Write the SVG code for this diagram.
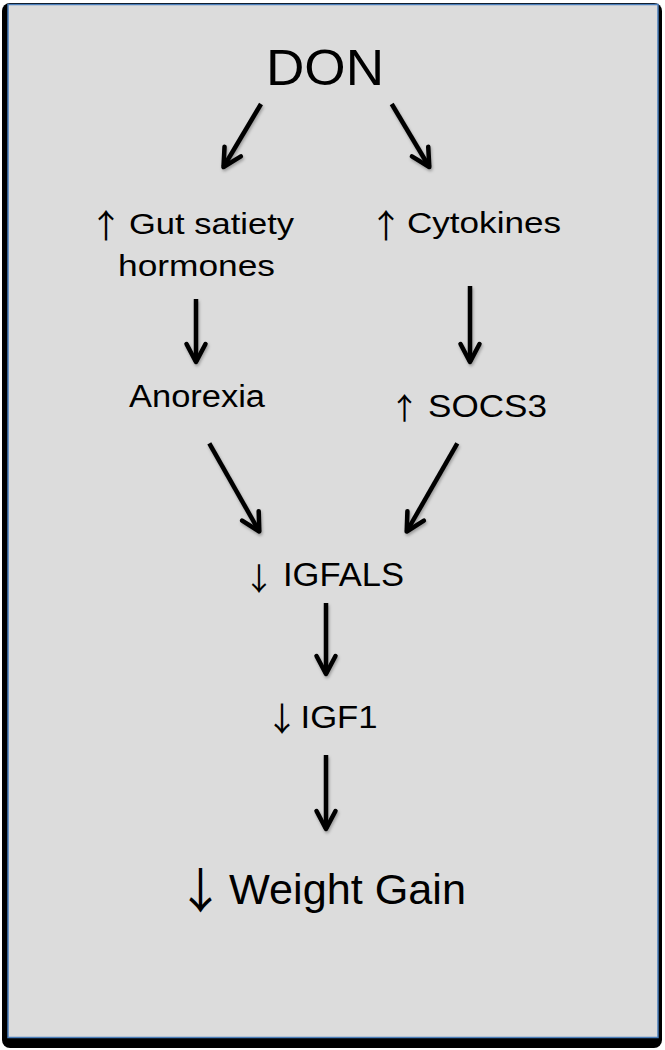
<svg xmlns="http://www.w3.org/2000/svg" width="665" height="1050" viewBox="0 0 665 1050">
<defs>
<style>
text{font-family:"Liberation Sans",Arial,sans-serif;fill:#000}
.lbl{font-size:30px}
.ar{text-anchor:middle;font-family:"Noto Sans CJK SC",sans-serif}
.conn line{stroke:#000;stroke-width:4.5;stroke-linecap:butt}
</style>
<marker id="head" markerUnits="userSpaceOnUse" markerWidth="40" markerHeight="40" viewBox="-30 -20 40 40" refX="0" refY="0" orient="auto" overflow="visible">
<path d="M-18,-9.5 L0,0 L-18,9.5" fill="none" stroke="#000" stroke-width="4.5" stroke-linecap="round" stroke-linejoin="round"/>
</marker>
<filter id="sh" x="-20%" y="-20%" width="140%" height="140%">
<feDropShadow dx="1" dy="2" stdDeviation="1.5" flood-color="#000" flood-opacity="0.3"/>
</filter>
</defs>
<g id="frame">
<rect x="2" y="3" width="660" height="1045" rx="8" fill="#000"/>
<rect x="8" y="4.5" width="650" height="1033" fill="#dcdcdc" stroke="#4a7ebb" stroke-width="1.5"/>
</g>
<g id="node-don"><text x="266" y="85" font-size="50" textLength="118" lengthAdjust="spacingAndGlyphs">DON</text></g>
<g id="node-gut">
<text class="ar" x="106" y="237.5" font-size="33">↑</text>
<text class="lbl" x="129" y="234" textLength="165" lengthAdjust="spacingAndGlyphs">Gut satiety</text>
<text class="lbl" x="118" y="276" textLength="157" lengthAdjust="spacingAndGlyphs">hormones</text>
</g>
<g id="node-cytokines">
<text class="ar" x="386" y="237.5" font-size="33">↑</text>
<text class="lbl" x="407" y="233" textLength="154" lengthAdjust="spacingAndGlyphs">Cytokines</text>
</g>
<g id="node-anorexia"><text x="129" y="407" font-size="31" textLength="136" lengthAdjust="spacingAndGlyphs">Anorexia</text></g>
<g id="node-socs3">
<text class="ar" x="404.5" y="418.5" font-size="30">↑</text>
<text x="428" y="417" font-size="31" textLength="119" lengthAdjust="spacingAndGlyphs">SOCS3</text>
</g>
<g id="node-igfals">
<text class="ar" x="259" y="590" font-size="31">↓</text>
<text x="283" y="586" font-size="33" textLength="121" lengthAdjust="spacingAndGlyphs">IGFALS</text>
</g>
<g id="node-igf1">
<text class="ar" x="282" y="731" font-size="33">↓</text>
<text x="300.5" y="728" font-size="32" textLength="77" lengthAdjust="spacingAndGlyphs">IGF1</text>
</g>
<g id="node-weight">
<text class="ar" x="200.5" y="907.5" font-size="48">↓</text>
<text x="229" y="904" font-size="43" textLength="237" lengthAdjust="spacingAndGlyphs">Weight Gain</text>
</g>
<g id="connectors" class="conn" filter="url(#sh)">
<line x1="261" y1="104" x2="223.5" y2="167" marker-end="url(#head)"/>
<line x1="391.7" y1="104" x2="429.3" y2="167" marker-end="url(#head)"/>
<line x1="196" y1="299" x2="196" y2="362" marker-end="url(#head)"/>
<line x1="470" y1="286" x2="470" y2="362" marker-end="url(#head)"/>
<line x1="209.3" y1="443.3" x2="259.3" y2="531.5" marker-end="url(#head)"/>
<line x1="457.3" y1="443.3" x2="406.7" y2="531.5" marker-end="url(#head)"/>
<line x1="326" y1="603" x2="326" y2="674" marker-end="url(#head)"/>
<line x1="326" y1="755" x2="326" y2="829" marker-end="url(#head)"/>
</g>
</svg>
